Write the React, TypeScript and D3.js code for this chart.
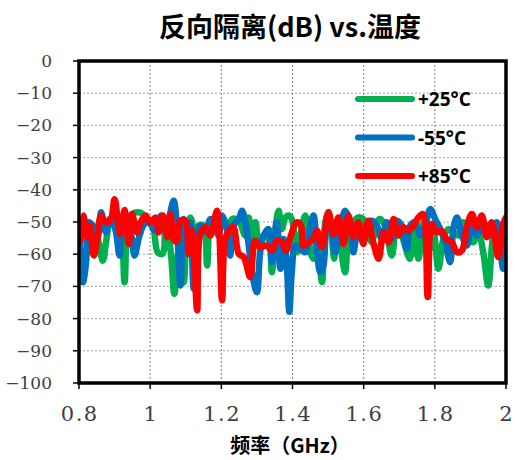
import React from "react";
import * as d3 from "d3";

const title = "反向隔离(dB) vs.温度";
const xTitle = "频率（GHz）";
const xTicks = [0.8, 1, 1.2, 1.4, 1.6, 1.8, 2];
const yTicks = [0, -10, -20, -30, -40, -50, -60, -70, -80, -90, -100];
const seriesNames = ["+25°C", "-55°C", "+85°C"];
const seriesColors = ["#00B050", "#0070C0", "#FF0000"];

const green: [number, number][] = [
  [0.801, -52.2], [0.815, -50.1], [0.829, -59.4], [0.839, -51.1], [0.853, -55.3], [0.867, -62.0],
  [0.876, -56.3], [0.886, -50.1], [0.9, -48.0], [0.914, -49.1], [0.928, -68.7], [0.937, -51.1],
  [0.951, -47.5], [0.965, -47.0], [0.979, -47.5], [0.993, -50.1], [1.007, -51.1], [1.021, -59.4],
  [1.035, -59.9], [1.043, -51.1], [1.057, -58.4], [1.068, -72.3], [1.08, -59.4], [1.094, -68.7],
  [1.104, -51.1], [1.113, -48.6], [1.127, -54.2], [1.136, -51.1], [1.15, -51.1], [1.16, -63.5],
  [1.169, -50.1], [1.178, -49.1], [1.192, -53.2], [1.202, -50.1], [1.216, -52.2], [1.23, -49.1],
  [1.249, -49.6], [1.267, -54.2], [1.277, -48.6], [1.286, -55.3], [1.296, -50.1], [1.305, -56.3],
  [1.319, -54.2], [1.333, -55.3], [1.342, -65.6], [1.352, -52.2], [1.361, -46.5], [1.37, -52.2],
  [1.38, -48.6], [1.389, -48.0], [1.398, -49.1], [1.412, -59.4], [1.422, -54.2], [1.436, -48.0],
  [1.45, -59.4], [1.459, -61.4], [1.469, -55.3], [1.483, -68.7], [1.492, -50.1], [1.501, -47.0],
  [1.51, -54.0], [1.517, -61.4], [1.525, -54.2], [1.534, -57.3], [1.548, -65.6], [1.557, -54.2],
  [1.571, -50.1], [1.585, -48.6], [1.599, -49.1], [1.613, -53.2], [1.623, -56.3], [1.637, -50.1],
  [1.646, -49.1], [1.66, -51.1], [1.679, -60.4], [1.693, -51.1], [1.702, -52.2], [1.716, -57.3],
  [1.73, -61.4], [1.742, -52.2], [1.754, -61.4], [1.768, -50.1], [1.782, -59.4], [1.796, -53.2],
  [1.81, -64.5], [1.824, -55.3], [1.838, -52.2], [1.852, -53.2], [1.866, -54.2], [1.88, -50.1],
  [1.894, -53.2], [1.908, -56.3], [1.922, -53.2], [1.936, -59.4], [1.95, -69.7], [1.964, -54.2],
  [1.974, -51.1], [1.988, -56.3], [1.997, -52.2],
];

const blue: [number, number][] = [
  [0.801, -54.2], [0.811, -68.7], [0.82, -62.5], [0.827, -50.1], [0.839, -51.1], [0.853, -54.2],
  [0.862, -47.0], [0.876, -53.2], [0.886, -49.1], [0.895, -50.1], [0.904, -53.2], [0.914, -60.4],
  [0.923, -51.1], [0.935, -50.1], [0.947, -54.2], [0.956, -60.4], [0.97, -54.2], [0.984, -50.6],
  [0.998, -50.1], [1.012, -52.7], [1.031, -48.0], [1.043, -51.1], [1.052, -49.1], [1.066, -43.4],
  [1.076, -53.2], [1.085, -69.7], [1.094, -49.1], [1.104, -55.3], [1.113, -50.1], [1.122, -70.7],
  [1.132, -53.2], [1.141, -51.1], [1.155, -53.2], [1.169, -49.1], [1.183, -50.1], [1.192, -54.2],
  [1.202, -48.0], [1.216, -52.2], [1.225, -60.4], [1.234, -51.1], [1.249, -49.1], [1.258, -46.5],
  [1.267, -50.0], [1.277, -57.3], [1.286, -65.6], [1.3, -71.8], [1.309, -59.4], [1.319, -54.2],
  [1.333, -52.2], [1.342, -62.5], [1.356, -50.1], [1.366, -64.5], [1.375, -55.3], [1.384, -63.5],
  [1.391, -77.9], [1.398, -65.6], [1.408, -57.3], [1.422, -58.4], [1.436, -59.4], [1.45, -51.1],
  [1.459, -48.0], [1.469, -59.4], [1.478, -65.6], [1.487, -63.5], [1.497, -51.1], [1.506, -50.1],
  [1.52, -59.4], [1.534, -52.2], [1.548, -46.5], [1.562, -50.1], [1.571, -59.4], [1.581, -54.2],
  [1.59, -53.2], [1.599, -54.2], [1.609, -50.6], [1.623, -49.6], [1.637, -51.1], [1.651, -55.3],
  [1.665, -50.1], [1.679, -55.3], [1.693, -49.6], [1.707, -51.1], [1.721, -58.4], [1.731, -51.1],
  [1.745, -50.1], [1.759, -54.2], [1.773, -51.1], [1.787, -46.0], [1.801, -49.1], [1.815, -52.2],
  [1.829, -56.3], [1.843, -62.5], [1.852, -52.2], [1.862, -48.6], [1.876, -54.2], [1.89, -57.3],
  [1.904, -50.1], [1.918, -54.2], [1.932, -50.6], [1.946, -51.1], [1.96, -54.2], [1.974, -50.1],
  [1.983, -57.3], [1.992, -64.5], [1.997, -56.3],
];

const red: [number, number][] = [
  [0.804, -55.8], [0.812, -48.0], [0.823, -54.7], [0.83, -51.1], [0.842, -60.4], [0.851, -55.8],
  [0.862, -48.0], [0.874, -50.1], [0.888, -49.6], [0.9, -42.9], [0.909, -49.6], [0.916, -53.7],
  [0.928, -46.3], [0.94, -56.8], [0.949, -47.5], [0.963, -53.2], [0.973, -50.1], [0.987, -48.0],
  [1.0, -50.1], [1.015, -48.6], [1.024, -53.2], [1.036, -48.0], [1.048, -54.7], [1.057, -47.5],
  [1.068, -55.8], [1.076, -55.8], [1.085, -49.6], [1.099, -49.6], [1.108, -59.9], [1.118, -52.7],
  [1.132, -77.4], [1.141, -53.7], [1.155, -51.6], [1.169, -54.2], [1.188, -46.5], [1.202, -74.3],
  [1.211, -55.3], [1.225, -52.2], [1.234, -51.6], [1.249, -59.9], [1.263, -60.9], [1.281, -67.1],
  [1.295, -55.8], [1.309, -57.8], [1.328, -57.3], [1.342, -58.9], [1.356, -55.8], [1.37, -56.3],
  [1.382, -58.9], [1.394, -54.7], [1.412, -50.1], [1.424, -51.1], [1.431, -57.3], [1.445, -56.3],
  [1.459, -55.3], [1.469, -52.7], [1.483, -57.8], [1.501, -47.0], [1.515, -53.7], [1.529, -48.6],
  [1.543, -56.8], [1.557, -48.0], [1.571, -54.7], [1.585, -50.1], [1.599, -56.8], [1.613, -49.6],
  [1.627, -56.3], [1.642, -61.4], [1.656, -53.2], [1.67, -56.3], [1.684, -49.1], [1.698, -54.2],
  [1.712, -51.6], [1.726, -52.7], [1.74, -51.1], [1.754, -48.6], [1.766, -47.5], [1.78, -73.3],
  [1.791, -50.6], [1.805, -53.2], [1.819, -52.7], [1.833, -55.3], [1.848, -56.3], [1.862, -59.4],
  [1.876, -58.9], [1.89, -51.6], [1.904, -47.5], [1.918, -51.6], [1.932, -48.0], [1.946, -54.7],
  [1.96, -50.1], [1.978, -60.9], [1.992, -50.6], [2.0, -48.6],
];

const seriesData = [green, blue, red];

export default function App() {
  const W = 515, H = 460;
  const left = 79, right = 506, top = 61, bottom = 383;
  const x = d3.scaleLinear().domain([0.8, 2]).range([left, right]);
  const y = d3.scaleLinear().domain([-100, 0]).range([bottom, top]);
  const line = d3
    .line<[number, number]>()
    .x((d) => x(d[0]))
    .y((d) => y(d[1]))
    .curve(d3.curveCatmullRom.alpha(0.5));

  const serif = "DejaVu Serif";
  const cjk = "Noto Sans CJK SC, Noto Sans, sans-serif";

  return (
    <svg
      width={W}
      height={H}
      style={{ position: "absolute", left: 0, top: 0, background: "#fff" }}
    >
      <defs>
        <clipPath id="clip">
          <rect x={left} y={top} width={right - left} height={bottom - top} />
        </clipPath>
      </defs>
      <rect x={0} y={0} width={W} height={H} fill="#fff" />
      {yTicks.slice(1, -1).map((t) => (
        <line key={"gy" + t} x1={left} x2={right} y1={y(t)} y2={y(t)} stroke="#a6a6a6" strokeWidth={1} strokeDasharray="2,2" />
      ))}
      {xTicks.slice(1, -1).map((t) => (
        <line key={"gx" + t} x1={x(t)} x2={x(t)} y1={top} y2={bottom} stroke="#7f7f7f" strokeWidth={1} strokeDasharray="2,2" />
      ))}
      <g clipPath="url(#clip)">
        {seriesData.map((d, i) => (
          <path
            key={i}
            d={line(d) || ""}
            fill="none"
            stroke={seriesColors[i]}
            strokeWidth={6.5}
            strokeLinejoin="round"
            strokeLinecap="round"
          />
        ))}
      </g>
      <rect x={left} y={top} width={right - left} height={bottom - top} fill="none" stroke="#000" strokeWidth={3.5} />
      {yTicks.map((t) => (
        <g key={"yt" + t}>
          <line x1={left - 6} x2={left} y1={y(t)} y2={y(t)} stroke="#000" strokeWidth={1.5} />
          <text
            x={52}
            y={y(t) + 6}
            textAnchor="end"
            fontFamily={serif}
            fontSize={17}
            fill="#404040"
          >
            {t < 0 ? "\u2212" + Math.abs(t) : String(t)}
          </text>
        </g>
      ))}
      {xTicks.map((t) => (
        <g key={"xt" + t}>
          <line x1={x(t)} x2={x(t)} y1={bottom} y2={bottom + 6} stroke="#000" strokeWidth={1.5} />
          <text
            x={x(t) + 0.75}
            y={421}
            textAnchor="middle"
            fontFamily={serif}
            fontSize={21}
            letterSpacing={1.5}
            fill="#404040"
          >
            {String(t)}
          </text>
        </g>
      ))}
      <text x={290} y={37} textAnchor="middle" fontFamily={cjk} fontWeight={700} fontSize={27} fill="#000">
        {title}
      </text>
      <text x={290} y={453} textAnchor="middle" fontFamily={cjk} fontWeight={700} fontSize={20} fill="#000">
        {xTitle}
      </text>
      {seriesNames.map((n, i) => {
        const ly = 99 + i * 38.5;
        return (
          <g key={n}>
            <line x1={358} x2={412} y1={ly} y2={ly} stroke={seriesColors[i]} strokeWidth={6} strokeLinecap="round" />
            <text x={418} y={ly + 7} fontFamily="Open Sans, Noto Sans, sans-serif" fontWeight={700} fontSize={19} fill="#000">
              {n}
            </text>
          </g>
        );
      })}
    </svg>
  );
}
